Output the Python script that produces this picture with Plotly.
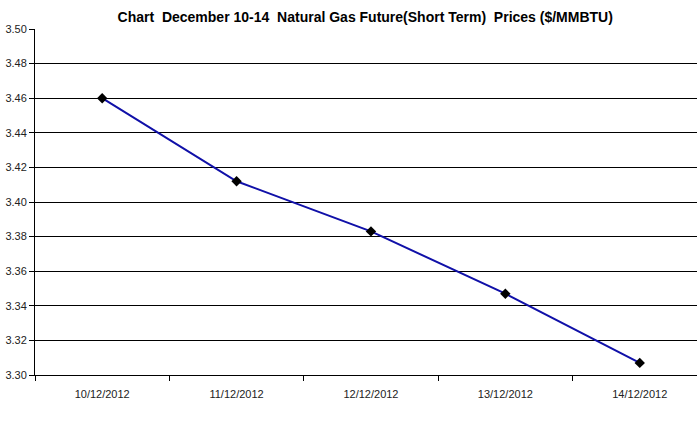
import plotly.graph_objects as go

# data
dates = ["10/12/2012", "11/12/2012", "12/12/2012", "13/12/2012", "14/12/2012"]
prices = [3.460, 3.412, 3.383, 3.347, 3.307]
y_ticks = [3.30, 3.32, 3.34, 3.36, 3.38, 3.40, 3.42, 3.44, 3.46, 3.48, 3.50]

fig = go.Figure()
fig.add_trace(go.Scatter(
    x=dates, y=prices, mode="lines+markers",
    line=dict(color="#1010A8", width=2),
    marker=dict(symbol="diamond", size=8, color="black"),
))

fig.update_layout(
    width=697, height=429,
    margin=dict(l=35, r=0, t=29, b=54),
    paper_bgcolor="white", plot_bgcolor="white",
    font=dict(family="Liberation Sans, Arial", size=11, color="#222"),
    showlegend=False,
    title=dict(text="<b>Chart  December 10-14  Natural Gas Future(Short Term)  Prices ($/MMBTU)</b>",
               x=0.524, xanchor="center", y=0.96, yanchor="middle",
               font=dict(size=14, color="black")),
)
# right end of the plot is cut off in the original, so the range stops short
fig.update_xaxes(
    type="category", range=[-0.5, 4.426], automargin=False,
    showgrid=False, showline=True, linecolor="black", linewidth=1,
    ticks="outside", tickson="boundaries", ticklen=5, tickcolor="black",
    tickfont=dict(size=11), ticklabelstandoff=9,
)
fig.update_yaxes(
    range=[3.30, 3.50], tickvals=y_ticks, tickformat=".2f", automargin=False,
    showgrid=True, gridcolor="black", gridwidth=1,
    showline=True, linecolor="black", linewidth=1,
    ticks="outside", ticklen=5, tickcolor="black", zeroline=False,
    tickfont=dict(size=11),
)

# drop the default page margin so the figure sits at 0,0 with no scrollbars
fig.write_html("out.html", config={"displayModeBar": False},
               post_script="document.body.style.margin='0';")
